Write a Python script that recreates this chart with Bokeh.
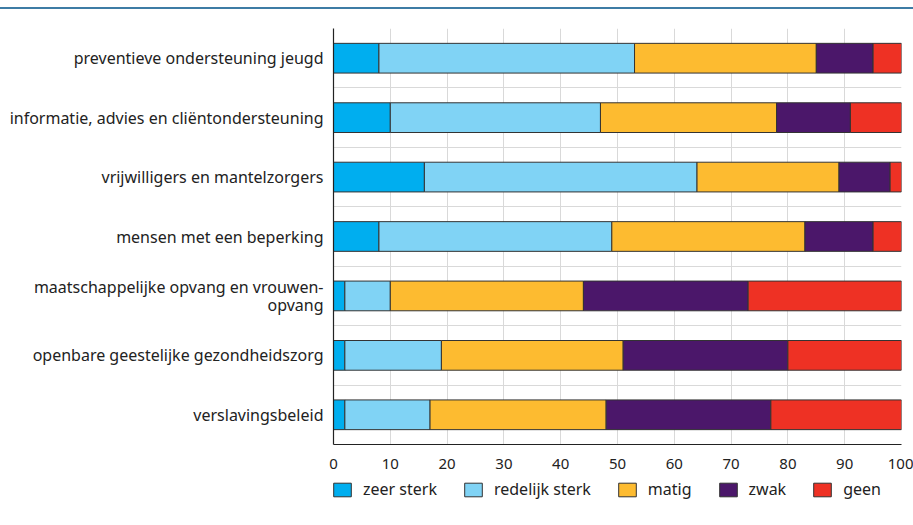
from bokeh.plotting import figure
from bokeh.models import (ColumnDataSource, Range1d, FixedTicker, Legend, LegendItem, Div)
from bokeh.layouts import column
from bokeh.embed import file_html
from bokeh.resources import INLINE

categories = [
    "preventieve ondersteuning jeugd",
    "informatie, advies en cliëntondersteuning",
    "vrijwilligers en mantelzorgers",
    "mensen met een beperking",
    "maatschappelijke opvang en vrouwen-\nopvang",
    "openbare geestelijke gezondheidszorg",
    "verslavingsbeleid",
]
series_names = ["zeer sterk", "redelijk sterk", "matig", "zwak", "geen"]
zeer_sterk = [8, 10, 16, 8, 2, 2, 2]
redelijk_sterk = [45, 37, 48, 41, 8, 17, 15]
matig = [32, 31, 25, 34, 34, 32, 31]
zwak = [10, 13, 9, 12, 29, 29, 29]
geen = [5, 9, 2, 5, 27, 20, 23]
x_ticks = [0, 10, 20, 30, 40, 50, 60, 70, 80, 90, 100]

colors = ["#00aeef", "#80d3f5", "#fdbb30", "#4b176a", "#ee3124"]
keys = ["zeer_sterk", "redelijk_sterk", "matig", "zwak", "geen"]

ypos = list(range(len(categories)))
source = ColumnDataSource(dict(y=ypos, zeer_sterk=zeer_sterk, redelijk_sterk=redelijk_sterk,
                               matig=matig, zwak=zwak, geen=geen))

FONT = "Noto Sans"
TXT = "#222222"

p = figure(width=913, height=465, output_backend="svg", toolbar_location=None,
           x_range=Range1d(0, 100), y_range=Range1d(len(categories) - 0.5, -0.5),
           min_border_left=333, min_border_right=12, min_border_top=19, min_border_bottom=30)
p.outline_line_color = None
p.background_fill_color = "white"
p.border_fill_color = "white"

renderers = p.hbar_stack(keys, y="y", height=0.5, color=colors, source=source,
                         line_color="#333333", line_width=1)

# grids
p.xgrid.ticker = FixedTicker(ticks=x_ticks)
p.xgrid.grid_line_color = "#d9d9d9"
p.xgrid.grid_line_width = 1
p.ygrid.ticker = FixedTicker(ticks=[i - 0.5 for i in ypos])
p.ygrid.grid_line_color = "#d9d9d9"
p.ygrid.grid_line_width = 1

# x axis
p.xaxis.ticker = FixedTicker(ticks=x_ticks)
p.xaxis.axis_line_color = TXT
p.xaxis.axis_line_width = 1.2
p.xaxis.major_tick_line_color = None
p.xaxis.minor_tick_line_color = None
p.xaxis.major_label_standoff = 8
p.xaxis.major_label_text_font = FONT
p.xaxis.major_label_text_font_size = "15px"
p.xaxis.major_label_text_color = TXT

# y axis
p.yaxis.ticker = FixedTicker(ticks=ypos)
p.yaxis.major_label_overrides = {i: c for i, c in enumerate(categories)}
p.yaxis.axis_line_color = TXT
p.yaxis.axis_line_width = 1.2
p.yaxis.major_tick_line_color = None
p.yaxis.minor_tick_line_color = None
p.yaxis.major_label_standoff = 4
p.yaxis.major_label_text_font = FONT
p.yaxis.major_label_text_font_size = "16px"
p.yaxis.major_label_text_line_height = 0.8
p.yaxis.major_label_text_color = TXT

# legend panel (separate figure below the chart; its bars lie outside its visible range)
p2 = figure(width=913, height=40, output_backend="svg", toolbar_location=None,
            x_range=Range1d(0, 100), y_range=Range1d(20, 21),
            x_axis_type=None, y_axis_type=None,
            min_border_left=333, min_border_right=12, min_border_top=0, min_border_bottom=0)
p2.outline_line_color = None
p2.xgrid.visible = False
p2.ygrid.visible = False
legend_renderers = p2.hbar_stack(keys, y="y", height=0.5, color=colors, source=source,
                                 line_color="#333333", line_width=1)
legend = Legend(items=[LegendItem(label=n, renderers=[r]) for n, r in zip(series_names, legend_renderers)],
                orientation="horizontal", location=(-2, 14),
                glyph_width=22, glyph_height=17, label_standoff=10, spacing=25,
                margin=0, padding=0, border_line_color=None, background_fill_alpha=0,
                label_text_font=FONT, label_text_font_size="16px", label_text_color=TXT)
p2.add_layout(legend, "center")

topline = Div(width=913, height=2, margin=(7, 0, 0, 0), styles={"background-color": "#3e7ca5"})

layout = column(topline, p, p2, spacing=0)
open("out.html", "w").write(file_html(layout, INLINE))
